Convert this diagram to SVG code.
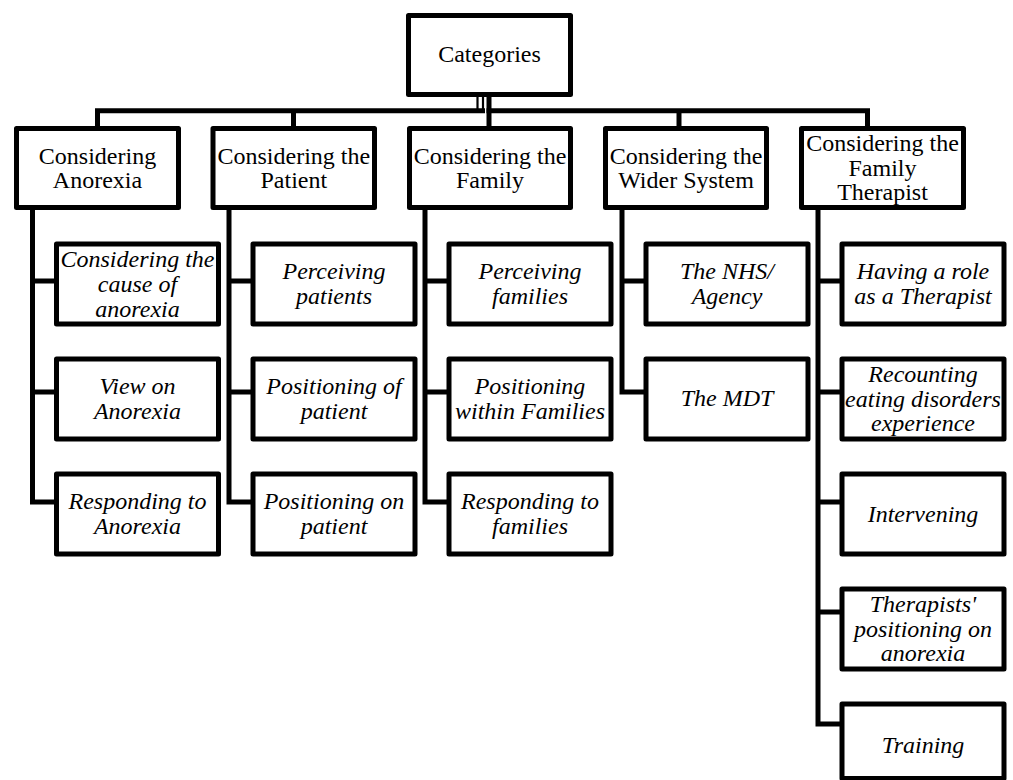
<svg xmlns="http://www.w3.org/2000/svg" width="1013" height="780" viewBox="0 0 1013 780">
  <style>
    .box { fill: #ffffff; stroke: #000000; stroke-width: 5; stroke-linejoin: round; }
    .wire { fill: none; stroke: #000000; stroke-width: 5; stroke-linejoin: miter; }
    .thin { fill: none; stroke: #000000; stroke-width: 2.2; }
    text { font-family: "Liberation Serif", "Times New Roman", serif; font-size: 24px; fill: #000000; text-anchor: middle; }
    .sub { font-style: italic; }
  </style>
  <rect width="1013" height="780" fill="#ffffff"/>

  <!-- tree connectors -->
  <g id="connectors">
    <!-- root to first level bus -->
    <path class="wire" d="M97.5,128 V110.8 H485"/>
    <path class="thin" d="M477.5,96 V109 M483,96 V109"/>
    <path class="wire" d="M489,96 V128"/>
    <path class="wire" d="M486.5,110.8 H867.5 V128"/>
    <path class="wire" d="M293.5,110.8 V128"/>
    <path class="wire" d="M679,110.8 V128"/>
    <!-- column 1 -->
    <path class="wire" d="M32.5,207 V502 H56.5 M32.5,281 H56.5 M32.5,392 H56.5"/>
    <!-- column 2 -->
    <path class="wire" d="M229,207 V502 H253 M229,281 H253 M229,392 H253"/>
    <!-- column 3 -->
    <path class="wire" d="M425,207 V502 H449 M425,281 H449 M425,392 H449"/>
    <!-- column 4 -->
    <path class="wire" d="M622,207 V392 H646 M622,281 H646"/>
    <!-- column 5 -->
    <path class="wire" d="M818,207 V724 H842 M818,281 H842 M818,392 H842 M818,502 H842 M818,612 H842"/>
  </g>

  <!-- root -->
  <g id="categories">
    <rect class="box" x="408.5" y="15.5" width="162" height="79"/>
    <text x="489.5" y="62">Categories</text>
  </g>

  <!-- first level -->
  <g id="considering-anorexia">
    <rect class="box" x="16.5" y="128.5" width="162" height="79"/>
    <text x="97.5"><tspan x="97.5" y="164">Considering</tspan><tspan x="97.5" y="188">Anorexia</tspan></text>
  </g>
  <g id="considering-patient">
    <rect class="box" x="213" y="128.5" width="161.5" height="79"/>
    <text><tspan x="293.8" y="164">Considering the</tspan><tspan x="293.8" y="188">Patient</tspan></text>
  </g>
  <g id="considering-family">
    <rect class="box" x="409.5" y="128.5" width="161" height="79"/>
    <text><tspan x="490" y="164">Considering the</tspan><tspan x="490" y="188">Family</tspan></text>
  </g>
  <g id="considering-wider-system">
    <rect class="box" x="605.5" y="128.5" width="161" height="79"/>
    <text><tspan x="686" y="164">Considering the</tspan><tspan x="686" y="188">Wider System</tspan></text>
  </g>
  <g id="considering-family-therapist">
    <rect class="box" x="801.5" y="128.5" width="162" height="79"/>
    <text><tspan x="882.5" y="151">Considering the</tspan><tspan x="882.5" y="175.5">Family</tspan><tspan x="882.5" y="200">Therapist</tspan></text>
  </g>

  <!-- column 1 leaves -->
  <g id="cause-of-anorexia">
    <rect class="box" x="56.5" y="244" width="162" height="80"/>
    <text class="sub"><tspan x="137.5" y="267">Considering the</tspan><tspan x="137.5" y="292">cause of</tspan><tspan x="137.5" y="317">anorexia</tspan></text>
  </g>
  <g id="view-on-anorexia">
    <rect class="box" x="56.5" y="359" width="162" height="80"/>
    <text class="sub"><tspan x="137.5" y="393.5">View on</tspan><tspan x="137.5" y="418.5">Anorexia</tspan></text>
  </g>
  <g id="responding-to-anorexia">
    <rect class="box" x="56.5" y="474" width="162" height="80"/>
    <text class="sub"><tspan x="137.5" y="508.5">Responding to</tspan><tspan x="137.5" y="533.5">Anorexia</tspan></text>
  </g>

  <!-- column 2 leaves -->
  <g id="perceiving-patients">
    <rect class="box" x="253" y="244" width="162" height="80"/>
    <text class="sub"><tspan x="334" y="278.5">Perceiving</tspan><tspan x="334" y="303.5">patients</tspan></text>
  </g>
  <g id="positioning-of-patient">
    <rect class="box" x="253" y="359" width="162" height="80"/>
    <text class="sub"><tspan x="334" y="393.5">Positioning of</tspan><tspan x="334" y="418.5">patient</tspan></text>
  </g>
  <g id="positioning-on-patient">
    <rect class="box" x="253" y="474" width="162" height="80"/>
    <text class="sub"><tspan x="334" y="508.5">Positioning on</tspan><tspan x="334" y="533.5">patient</tspan></text>
  </g>

  <!-- column 3 leaves -->
  <g id="perceiving-families">
    <rect class="box" x="449" y="244" width="162" height="80"/>
    <text class="sub"><tspan x="530" y="278.5">Perceiving</tspan><tspan x="530" y="303.5">families</tspan></text>
  </g>
  <g id="positioning-within-families">
    <rect class="box" x="449" y="359" width="162" height="80"/>
    <text class="sub"><tspan x="530" y="393.5">Positioning</tspan><tspan x="530" y="418.5">within Families</tspan></text>
  </g>
  <g id="responding-to-families">
    <rect class="box" x="449" y="474" width="162" height="80"/>
    <text class="sub"><tspan x="530" y="508.5">Responding to</tspan><tspan x="530" y="533.5">families</tspan></text>
  </g>

  <!-- column 4 leaves -->
  <g id="nhs-agency">
    <rect class="box" x="646" y="244" width="162" height="80"/>
    <text class="sub"><tspan x="727" y="278.5">The NHS/</tspan><tspan x="727" y="303.5">Agency</tspan></text>
  </g>
  <g id="the-mdt">
    <rect class="box" x="646" y="359" width="162" height="80"/>
    <text class="sub" x="727" y="406">The MDT</text>
  </g>

  <!-- column 5 leaves -->
  <g id="role-as-therapist">
    <rect class="box" x="842" y="244" width="162" height="80"/>
    <text class="sub"><tspan x="923" y="278.5">Having a role</tspan><tspan x="923" y="303.5">as a Therapist</tspan></text>
  </g>
  <g id="recounting-experience">
    <rect class="box" x="842" y="359" width="162" height="80"/>
    <text class="sub"><tspan x="923" y="382">Recounting</tspan><tspan x="923" y="406.5">eating disorders</tspan><tspan x="923" y="431">experience</tspan></text>
  </g>
  <g id="intervening">
    <rect class="box" x="842" y="474" width="162" height="80"/>
    <text class="sub" x="923" y="521.5">Intervening</text>
  </g>
  <g id="therapists-positioning">
    <rect class="box" x="842" y="589" width="162" height="80"/>
    <text class="sub"><tspan x="923" y="612">Therapists'</tspan><tspan x="923" y="636.5">positioning on</tspan><tspan x="923" y="661">anorexia</tspan></text>
  </g>
  <g id="training">
    <rect class="box" x="842" y="704" width="162" height="74.5"/>
    <text class="sub" x="923" y="753">Training</text>
  </g>
</svg>
